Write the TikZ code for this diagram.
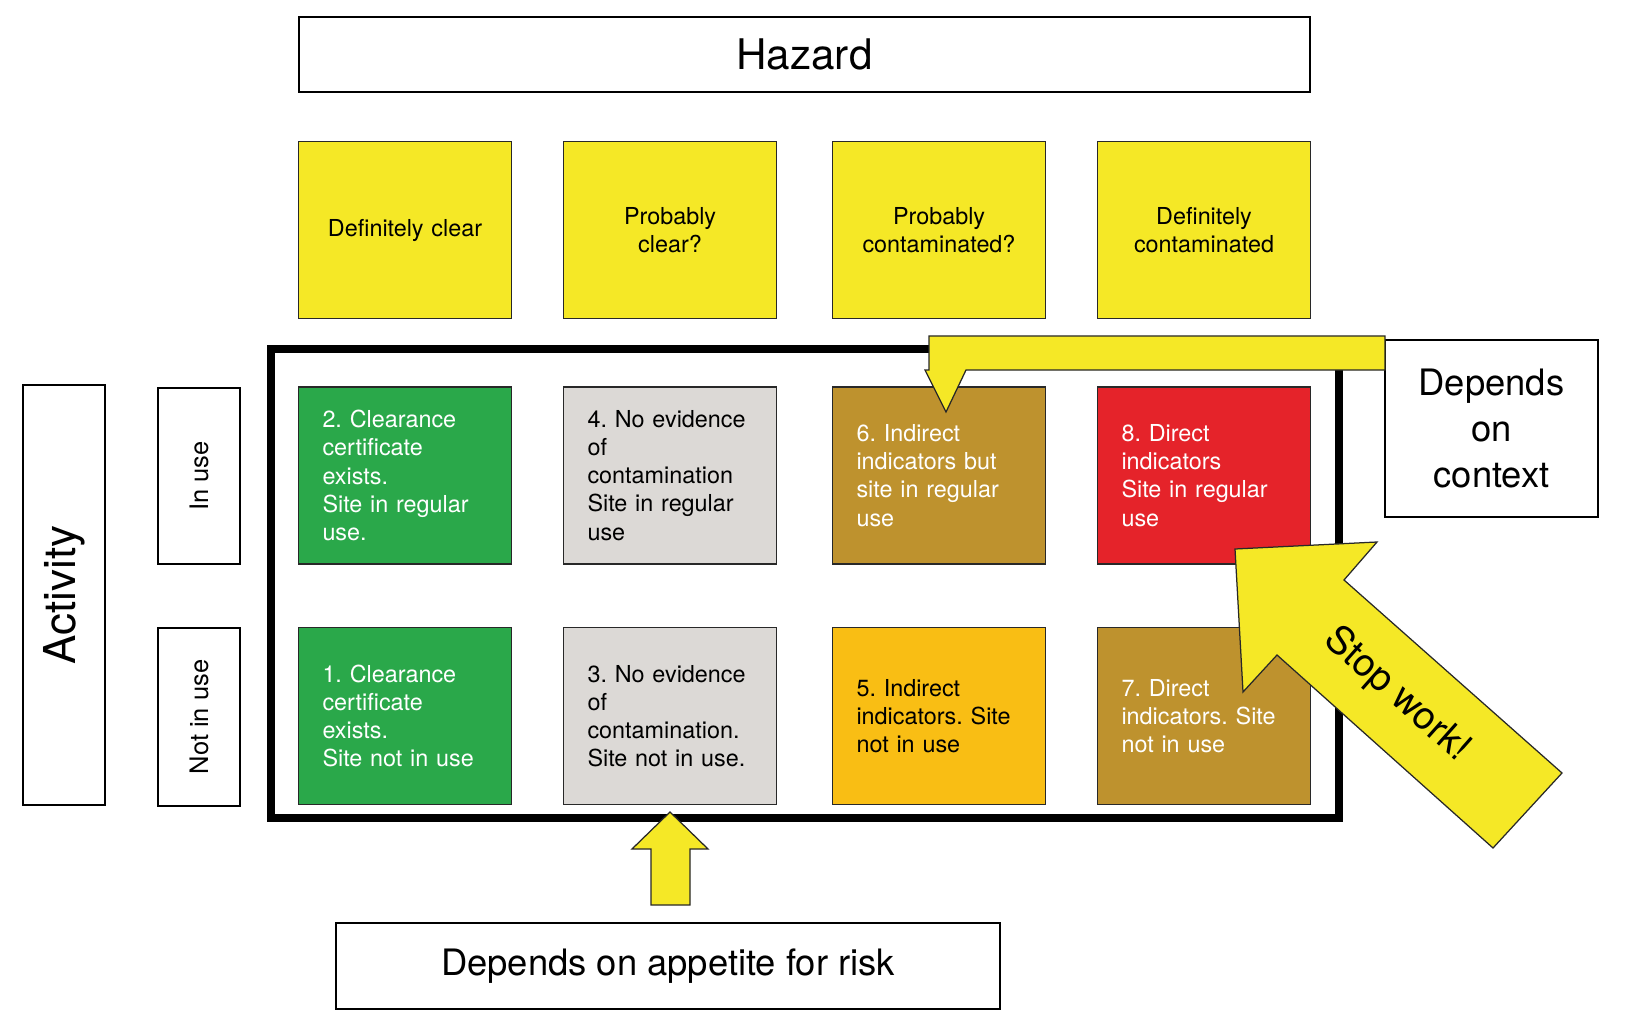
\documentclass[tikz,border=0pt]{standalone}
\usepackage{fontspec}
\setmainfont{TeX Gyre Heros}
\usepackage{xcolor}
\definecolor{hazyellow}{RGB}{245,232,38}
\definecolor{cleargreen}{RGB}{42,168,74}
\definecolor{nogrey}{RGB}{220,217,214}
\definecolor{ochre}{RGB}{190,146,46}
\definecolor{alarmred}{RGB}{229,35,42}
\definecolor{amber}{RGB}{249,190,20}
\definecolor{edgegrey}{RGB}{40,40,40}
\frenchspacing

\begin{document}
\begin{tikzpicture}[x=0.2mm, y=-0.2mm,
  every node/.style={font=\fontsize{13.3}{16}\selectfont},
  cell/.style={draw=edgegrey, line width=0.3mm, minimum width=42.6mm,
    minimum height=35.4mm, text width=33mm, inner xsep=0pt, align=left},
  colhead/.style={cell, fill=hazyellow, align=center},
  whitebox/.style={draw=black, line width=0.4mm, fill=white, inner sep=0pt},
  blockarrow/.style={draw=edgegrey, line width=0.25mm, fill=hazyellow,
    line join=miter}]
  \useasboundingbox (0,0) rectangle (1626,1025);

  % hazard axis
  \node[whitebox, minimum width=202.2mm, minimum height=15mm,
    font=\fontsize{24}{29}\selectfont] (hazard) at (804.5,54.5) {Hazard};
  \node[colhead] (h1) at (405,230) {Definitely clear};
  \node[colhead] (h2) at (670,230) {Probably\\clear?};
  \node[colhead] (h3) at (939,230) {Probably\\contaminated?};
  \node[colhead] (h4) at (1204,230) {Definitely\\contaminated};

  % activity axis
  \node[whitebox, rotate=90, minimum width=84mm, minimum height=16.4mm,
    font=\fontsize{25}{30}\selectfont] (activity) at (64,595) {Activity};
  \node[whitebox, rotate=90, minimum width=35.2mm, minimum height=16.4mm,
    font=\fontsize{14.5}{17}\selectfont] (inuse) at (199,476) {In use};
  \node[whitebox, rotate=90, minimum width=35.6mm, minimum height=16.4mm,
    font=\fontsize{14.5}{17}\selectfont] (notinuse) at (199,717) {Not in use};

  % grid
  \node[cell, fill=cleargreen, text=white] (c2) at (405,475.5)
    {2. Clearance\\certificate\\exists.\\Site in regular\\use.};
  \node[cell, fill=nogrey] (c4) at (670,475.5)
    {4. No evidence\\of\\contamination\\Site in regular\\use};
  \node[cell, fill=ochre, text=white] (c6) at (939,475.5)
    {6. Indirect\\indicators but\\site in regular\\use};
  \node[cell, fill=alarmred, text=white] (c8) at (1204,475.5)
    {8. Direct\\indicators\\Site in regular\\use};
  \node[cell, fill=cleargreen, text=white] (c1) at (405,716)
    {1. Clearance\\certificate\\exists.\\Site not in use};
  \node[cell, fill=nogrey] (c3) at (670,716)
    {3. No evidence\\of\\contamination.\\Site not in use.};
  \node[cell, fill=amber] (c5) at (939,716)
    {5. Indirect\\indicators. Site\\not in use};
  \node[cell, fill=ochre, text=white] (c7) at (1204,716)
    {7. Direct\\indicators. Site\\not in use};
  \draw[line width=1.7mm] (271,349) rectangle (1339,818);

  % side notes
  \node[whitebox, minimum width=42.6mm, minimum height=35.4mm, align=center,
    font=\fontsize{20.7}{25.9}\selectfont] (context) at (1491.5,428.5)
    {Depends\\on\\context};
  \node[whitebox, minimum width=132.8mm, minimum height=17.2mm,
    font=\fontsize{20.7}{25}\selectfont] (appetite) at (668,966)
    {Depends on appetite for risk};

  % block arrows
  \draw[blockarrow] (929,336) -- (1385,336) -- (1385,370) -- (966,370)
    -- (946,412) -- (925,370) -- (929,370) -- cycle;
  \draw[blockarrow] (1235,549) -- (1377,542) -- (1344,580) -- (1562,773)
    -- (1493,848) -- (1277,655) -- (1243,692) -- cycle;
  \node[rotate=-41.6, font=\fontsize{21.8}{26}\selectfont] (stop)
    at (1397,695) {Stop work!};
  \draw[blockarrow] (670,812) -- (708,849) -- (690,849) -- (690,905)
    -- (651,905) -- (651,849) -- (632,849) -- cycle;
\end{tikzpicture}
\end{document}
